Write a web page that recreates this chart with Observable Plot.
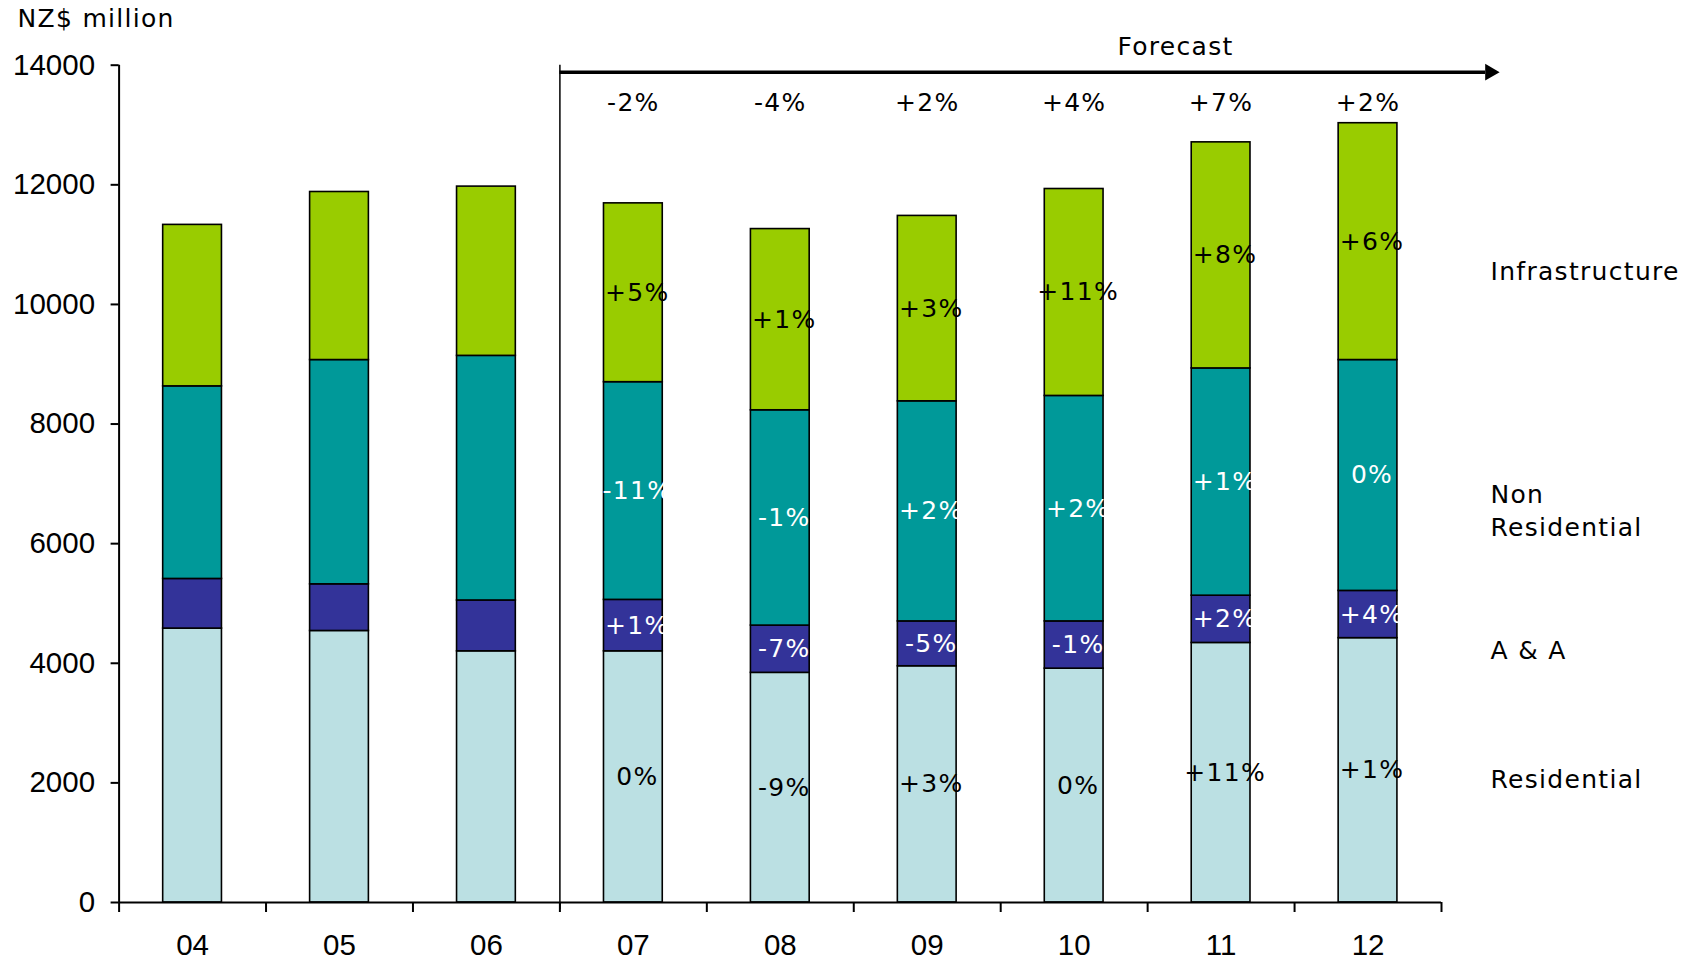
<!DOCTYPE html>
<html>
<head>
<meta charset="utf-8">
<script src="https://cdn.jsdelivr.net/npm/d3@7"></script>
<script src="https://cdn.jsdelivr.net/npm/@observablehq/plot@0.6"></script>
<style>
  html, body { margin: 0; padding: 0; background: #fff; }
  #chart svg { display: block; }
  #chart g[aria-label="text"] text { letter-spacing: 1.3px; }
</style>
</head>
<body>
<div id="chart"></div>
<script>
// ---- data ----
const years = ["04", "05", "06", "07", "08", "09", "10", "11", "12"];
const seriesNames = ["Residential", "A & A", "Non Residential", "Infrastructure"];
const seriesColors = ["#BBE0E3", "#333399", "#009999", "#99CC00"];
const residential    = [4580, 4540, 4200, 4200, 3840, 3950, 3910, 4340, 4420];
const alterations    = [830, 780, 850, 860, 790, 750, 790, 790, 790];
const nonResidential = [3220, 3750, 4090, 3640, 3600, 3680, 3770, 3800, 3860];
const infrastructure = [2700, 2810, 2830, 2990, 3030, 3100, 3460, 3780, 3960];
// growth labels (forecast years only)
const resPct   = [null, null, null, "0%", "-9%", "+3%", "0%", "+11%", "+1%"];
const aaPct    = [null, null, null, "+1%", "-7%", "-5%", "-1%", "+2%", "+4%"];
const nonResPct= [null, null, null, "-11%", "-1%", "+2%", "+2%", "+1%", "0%"];
const infraPct = [null, null, null, "+5%", "+1%", "+3%", "+11%", "+8%", "+6%"];
const totalPct = [null, null, null, "-2%", "-4%", "+2%", "+4%", "+7%", "+2%"];
const yTicks = [0, 2000, 4000, 6000, 8000, 10000, 12000, 14000];
const forecastStart = 3; // index of "07"
const seriesLabelValues = [2090, 4250, 6580, 10580];
const seriesLabelText = ["Residential", "A & A", "Non\nResidential", "Infrastructure"];

// ---- build table ----
const seriesValues = [residential, alterations, nonResidential, infrastructure];
const seriesPcts = [resPct, aaPct, nonResPct, infraPct];
const table = [];
years.forEach((yr, i) => {
  seriesNames.forEach((s, k) => {
    table.push({i, year: yr, series: s, value: seriesValues[k][i], pct: seriesPcts[k][i]});
  });
});
const topLabels = years.map((yr, i) => ({i, text: totalPct[i]})).filter(d => d.text);
const legendLabels = seriesNames.map((s, k) => ({value: seriesLabelValues[k], text: seriesLabelText[k]}));

const W = 1690, H = 962;
const mL = 118.6, mR = 249, mT = 64.7, mB = 60;
const step = (W - mL - mR) / years.length;
const inset = step * 0.3;
const tickFont = "'Liberation Sans', Arial, sans-serif";
const labFont = "'DejaVu Sans', Verdana, sans-serif";
const yMax = 14000;

const chart = Plot.plot({
  width: W,
  height: H,
  marginLeft: mL,
  marginRight: mR,
  marginTop: mT,
  marginBottom: mB,
  style: {background: "#fff", color: "#000", overflow: "visible"},
  x: {type: "linear", domain: [0, years.length]},
  y: {domain: [0, yMax]},
  color: {domain: seriesNames, range: seriesColors},
  marks: [
    // bars
    Plot.rectY(table, {
      x1: "i", x2: d => d.i + 1, y: "value", fill: "series",
      stroke: "#000", strokeWidth: 1.6, insetLeft: inset, insetRight: inset
    }),
    // segment growth labels
    Plot.text(table, Plot.stackY({
      x: d => d.i + 0.5, y: "value", text: "pct",
      fill: d => (d.series === "A & A" || d.series === "Non Residential") ? "white" : "black",
      fontSize: 25, fontFamily: labFont, dx: 4
    })),
    // forecast bracket
    Plot.ruleX([forecastStart], {y1: 0, y2: yMax, insetTop: 7, stroke: "#000", strokeWidth: 1.5}),
    Plot.ruleY([yMax], {x1: forecastStart, x2: 9.3, dy: 7, stroke: "#000", strokeWidth: 3.5}),
    Plot.dot([yMax], {x: () => 9.33, y: d => d, symbol: "triangle", rotate: 90, r: 6.2, fill: "#000", stroke: null, dy: 7}),
    Plot.text(["Forecast"], {x: () => 7.19, frameAnchor: "top", dy: -28, text: d => d,
      fontSize: 25, fontFamily: labFont}),
    // total growth labels
    Plot.text(topLabels, {x: d => d.i + 0.5, frameAnchor: "top", dy: 28, text: "text",
      fontSize: 25, fontFamily: labFont}),
    // series labels on right
    Plot.text(legendLabels, {x: () => years.length, y: "value", text: "text", textAnchor: "start",
      dx: 49, fontSize: 25, fontFamily: labFont, lineHeight: 1.3}),
    // unit label
    Plot.text(["NZ$ million"], {frameAnchor: "top-left", dx: -101.6, dy: -55.5, textAnchor: "start",
      text: d => d, fontSize: 25, fontFamily: labFont}),
    // axes
    Plot.axisY({ticks: yTicks, tickSize: 8, tickPadding: 16, tickFormat: d3.format("d"),
      fontSize: 29.5, fontFamily: tickFont, label: null, strokeWidth: 2}),
    Plot.axisX({ticks: d3.range(0, years.length + 1), tickSize: 10, tickFormat: () => "", label: null, strokeWidth: 2}),
    Plot.axisX({ticks: d3.range(0, years.length).map(i => i + 0.5), tickSize: 0, tickPadding: 32,
      tickFormat: d => years[Math.floor(d)], fontSize: 29.5, fontFamily: tickFont, label: null}),
    Plot.ruleX([0], {stroke: "#000", strokeWidth: 2}),
    Plot.ruleY([0], {stroke: "#000", strokeWidth: 2})
  ]
});
document.getElementById("chart").appendChild(chart);
</script>
</body>
</html>
